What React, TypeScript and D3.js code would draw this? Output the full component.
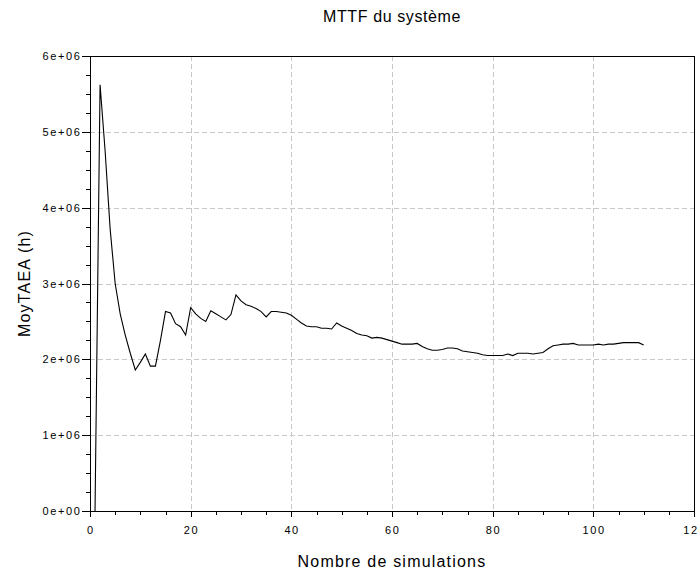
import React from 'react';
import * as d3 from 'd3';

const width = 699;
const height = 571;
const margin = { top: 56, right: 5, bottom: 60, left: 90 };

// MTTF estimate after each simulation (hours)
const moyTAEA = [
  0, 5.62e6, 4.75e6, 3.72e6, 3.0e6, 2.6e6, 2.32e6, 2.08e6, 1.86e6, 1.96e6,
  2.07e6, 1.91e6, 1.91e6, 2.25e6, 2.63e6, 2.61e6, 2.47e6, 2.43e6, 2.32e6, 2.68e6,
  2.6e6, 2.54e6, 2.5e6, 2.64e6, 2.6e6, 2.56e6, 2.52e6, 2.59e6, 2.85e6, 2.77e6,
  2.72e6, 2.7e6, 2.67e6, 2.63e6, 2.56e6, 2.63e6, 2.63e6, 2.62e6, 2.61e6, 2.58e6,
  2.53e6, 2.48e6, 2.44e6, 2.43e6, 2.43e6, 2.41e6, 2.41e6, 2.4e6, 2.48e6, 2.44e6,
  2.41e6, 2.38e6, 2.34e6, 2.32e6, 2.31e6, 2.28e6, 2.29e6, 2.28e6, 2.26e6, 2.24e6,
  2.22e6, 2.2e6, 2.2e6, 2.2e6, 2.21e6, 2.17e6, 2.14e6, 2.12e6, 2.12e6, 2.13e6,
  2.15e6, 2.15e6, 2.14e6, 2.11e6, 2.1e6, 2.09e6, 2.08e6, 2.06e6, 2.05e6, 2.05e6,
  2.05e6, 2.05e6, 2.07e6, 2.05e6, 2.08e6, 2.08e6, 2.08e6, 2.07e6, 2.08e6, 2.09e6,
  2.14e6, 2.18e6, 2.19e6, 2.2e6, 2.2e6, 2.21e6, 2.19e6, 2.19e6, 2.19e6, 2.19e6,
  2.2e6, 2.19e6, 2.2e6, 2.2e6, 2.21e6, 2.22e6, 2.22e6, 2.22e6, 2.22e6, 2.19e6,
];

const xTicks = [0, 20, 40, 60, 80, 100, 120];
const xTickLabels = ['0', '20', '40', '60', '80', '100', '120'];
const yTicks = [0, 1e6, 2e6, 3e6, 4e6, 5e6, 6e6];
const yTickLabels = ['0e+00', '1e+06', '2e+06', '3e+06', '4e+06', '5e+06', '6e+06'];

const title = 'MTTF du système';
const xLabel = 'Nombre de simulations';
const yLabel = 'MoyTAEA (h)';

const font = '"Liberation Sans", Arial, sans-serif';

export default function App() {
  const xScale = d3.scaleLinear().domain([0, 120]).range([margin.left, width - margin.right]);
  const yScale = d3.scaleLinear().domain([0, 6e6]).range([height - margin.bottom, margin.top]);

  const x0 = xScale(0);
  const x1 = xScale(120);
  const y0 = yScale(0);
  const y1 = yScale(6e6);

  const line = d3.line<number>()
    .x((d, i) => xScale(i + 1))
    .y(d => yScale(d));

  const xMinor = d3.range(0, 121, 5).filter(v => v % 20 !== 0);
  const yMinor = d3.range(0, 6e6 + 1, 2.5e5).filter(v => v % 1e6 !== 0);

  return (
    <svg width={width} height={height} style={{ position: 'absolute', left: 0, top: 0, background: '#fff' }}>
      <rect x={0} y={0} width={width} height={height} fill="#fff" />

      {/* grid */}
      <g stroke="#c8c8c8" strokeDasharray="5,3" shapeRendering="crispEdges">
        {xTicks.slice(1, -1).map(t => (
          <line key={'gx' + t} x1={Math.round(xScale(t)) + 0.5} x2={Math.round(xScale(t)) + 0.5} y1={y1} y2={y0} />
        ))}
        {yTicks.slice(1, -1).map(t => (
          <line key={'gy' + t} x1={x0} x2={x1} y1={Math.round(yScale(t)) + 0.5} y2={Math.round(yScale(t)) + 0.5} />
        ))}
      </g>

      {/* data */}
      <path d={line(moyTAEA) || ''} fill="none" stroke="#000" strokeWidth={1.1} />

      {/* frame */}
      <rect x={Math.round(x0) + 0.5} y={Math.round(y1) + 0.5} width={Math.round(x1 - x0)} height={Math.round(y0 - y1)}
        fill="none" stroke="#000" strokeWidth={1} shapeRendering="crispEdges" />

      {/* x axis ticks */}
      <g stroke="#000" shapeRendering="crispEdges">
        {xTicks.map(t => (
          <line key={'xt' + t} x1={Math.round(xScale(t)) + 0.5} x2={Math.round(xScale(t)) + 0.5} y1={y0} y2={y0 + 6} />
        ))}
        {xMinor.map(t => (
          <line key={'xm' + t} x1={Math.round(xScale(t)) + 0.5} x2={Math.round(xScale(t)) + 0.5} y1={y0} y2={y0 + 4} />
        ))}
        {yTicks.map(t => (
          <line key={'yt' + t} x1={x0 - 8} x2={x0} y1={Math.round(yScale(t)) + 0.5} y2={Math.round(yScale(t)) + 0.5} />
        ))}
        {yMinor.map(t => (
          <line key={'ym' + t} x1={x0 - 4} x2={x0} y1={Math.round(yScale(t)) + 0.5} y2={Math.round(yScale(t)) + 0.5} />
        ))}
      </g>

      {/* tick labels */}
      <g fontFamily={font} fontSize={11} fill="#000" letterSpacing={1.6}>
        {xTicks.map((t, i) => (
          <text key={'xl' + t} x={xScale(t) + 0.8} y={y0 + 22.5} textAnchor="middle">{xTickLabels[i]}</text>
        ))}
        {yTicks.map((t, i) => (
          <text key={'yl' + t} x={x0 - 8.5} y={yScale(t) + 4} textAnchor="end">{yTickLabels[i]}</text>
        ))}
      </g>

      {/* titles */}
      <g fontFamily={font} fontSize={16} fill="#000">
        <text x={(x0 + x1) / 2} y={21.5} textAnchor="middle" letterSpacing={0.6}>{title}</text>
        <text x={(x0 + x1) / 2} y={566.5} textAnchor="middle" letterSpacing={1.2}>{xLabel}</text>
        <text transform={`translate(29.5, ${(y0 + y1) / 2}) rotate(-90)`} textAnchor="middle" letterSpacing={1.2}>{yLabel}</text>
      </g>
    </svg>
  );
}
